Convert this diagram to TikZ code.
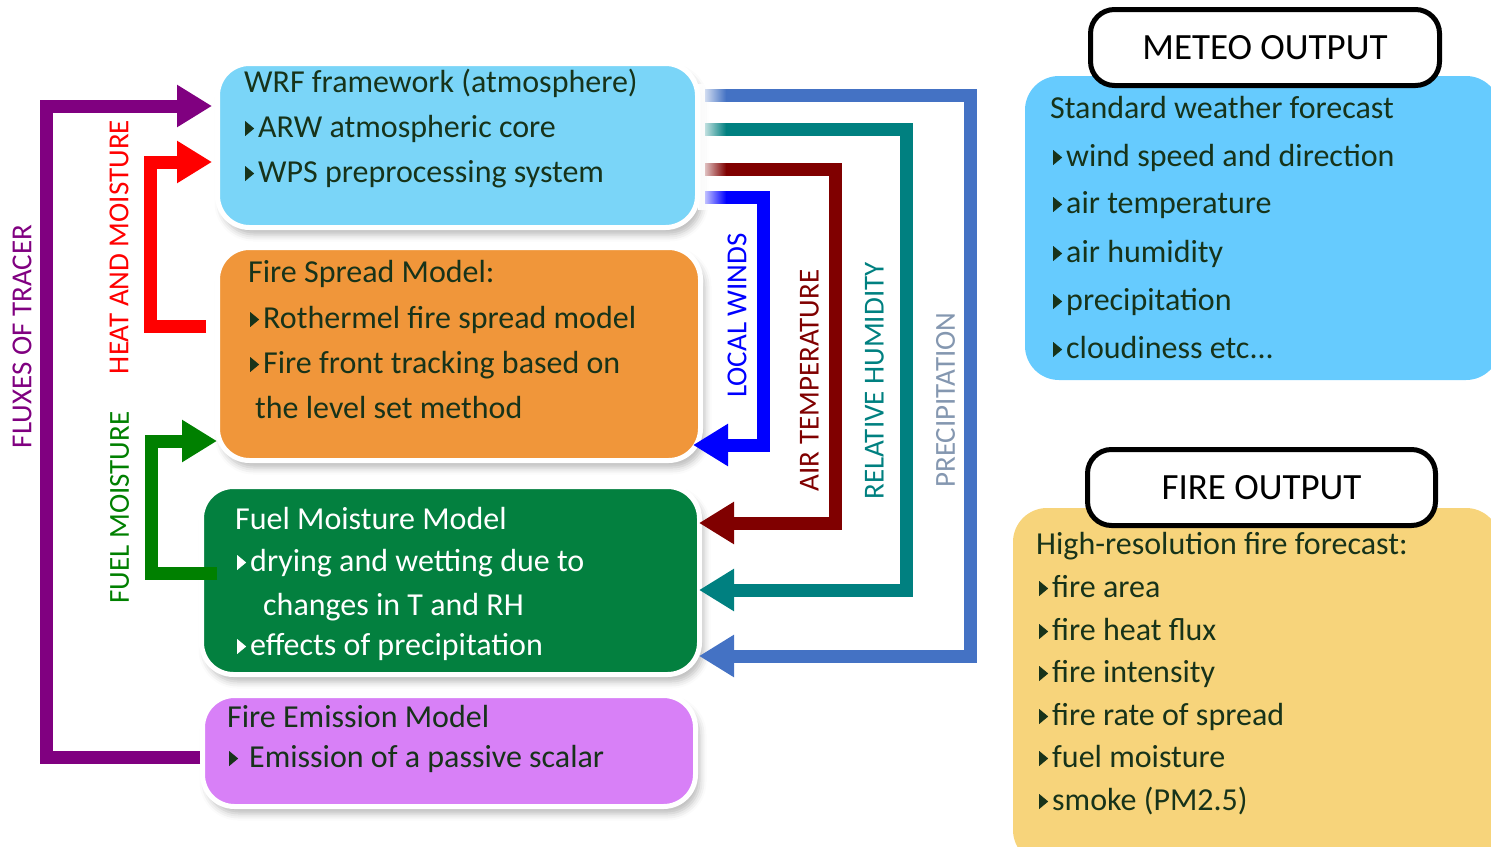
\documentclass[tikz,border=0pt]{standalone}
\usepackage{fontspec}
\setmainfont{Carlito}
\usetikzlibrary{arrows.meta,shadows.blur,fadings}

\definecolor{wrfc}{HTML}{7AD5F8}
\definecolor{spreadc}{HTML}{F0963A}
\definecolor{fuelc}{HTML}{03803F}
\definecolor{emic}{HTML}{D880F7}
\definecolor{meteoc}{HTML}{66CBFE}
\definecolor{firec}{HTML}{F7D47B}
\definecolor{txtc}{HTML}{17331A}
\definecolor{purp}{HTML}{800080}
\definecolor{heatc}{HTML}{FF0000}
\definecolor{moistc}{HTML}{008000}
\definecolor{windc}{HTML}{0000FF}
\definecolor{tempc}{HTML}{800000}
\definecolor{humc}{HTML}{008080}
\definecolor{precc}{HTML}{4472C4}
\definecolor{preclab}{HTML}{8497B0}

% small right-pointing bullet triangle, in the current text colour
\newcommand\tri{\tikz[baseline=0pt]\fill (0pt,1pt) -- (0pt,16pt) -- (9pt,8.5pt) -- cycle;}

\begin{document}
\begin{tikzpicture}[x=1pt,y=-1pt,
  lbox/.style={rounded corners=32pt, draw=white, line width=5pt,
    blur shadow={shadow xshift=4pt, shadow yshift=-7pt, shadow blur radius=7pt, shadow opacity=28},
    inner sep=0pt},
  rbox/.style={rounded corners=34pt, inner sep=0pt},
  tag/.style={rounded corners=24pt, draw=black, line width=5pt, fill=white, inner sep=0pt,
    font=\fontsize{37}{42}\selectfont},
  txt/.style={anchor=base west, inner sep=0pt, text=txtc, font=\fontsize{32}{36}\selectfont},
  vlab/.style={rotate=90, inner sep=0pt, font=\fontsize{29}{34}\selectfont},
  flow/.style={line width=13pt, line join=miter, line cap=butt,
    -{Triangle[length=35pt,width=40pt]}}]

\useasboundingbox (0,0) rectangle (1491,846);
\clip (0,0) rectangle (1491,846);

% ---- model boxes ----
\node[lbox, fill=wrfc, minimum width=480pt, minimum height=164pt] (wrf) at (457.5,145.5) {};
\node[lbox, fill=spreadc, minimum width=483pt, minimum height=213pt] (spread) at (459,354) {};
\node[lbox, fill=fuelc, minimum width=498pt, minimum height=188pt] (fuel) at (450.5,580.5) {};
\node[lbox, fill=emic, minimum width=493pt, minimum height=111pt] (emi) at (449,751) {};

% ---- arrow end points ----
\coordinate (purpIn) at (212,106);
\coordinate (heatIn) at (212,162);
\coordinate (heatOut) at (206,326);
\coordinate (moistIn) at (217,441);
\coordinate (moistOut) at (217,573);
\coordinate (windOut) at (705,197);
\coordinate (windIn) at (693,445);
\coordinate (tempOut) at (705,169);
\coordinate (tempIn) at (699,523);
\coordinate (humOut) at (705,129);
\coordinate (humIn) at (699,590);
\coordinate (precOut) at (705,95);
\coordinate (precIn) at (699,656);

% ---- feedback arrows on the left ----
\draw[flow, purp] ([yshift=-6pt]emi.west) -| (46,106) -- (purpIn);
\draw[flow, heatc] (heatOut) -| (150,162) -- (heatIn);
\draw[flow, moistc] (moistOut) -| (151,441) -- (moistIn);

% ---- atmospheric forcing arrows on the right ----
\draw[flow, windc] (windOut) -| (763,445) -- (windIn);
\draw[flow, tempc] (tempOut) -| (835,523) -- (tempIn);
\draw[flow, humc] (humOut) -| (906,590) -- (humIn);
\draw[flow, precc] (precOut) -| (970,656) -- (precIn);

% soft white glow where the arrows leave the WRF box
\fill[white, path fading=east] (698,84) rectangle (726,210);

% ---- arrow labels ----
\node[vlab, text=purp] (lflux) at (22,336.5) {FLUXES OF TRACER};
\node[vlab, text=heatc] (lheat) at (119,247) {HEAT AND MOISTURE};
\node[vlab, text=moistc] (lmoist) at (119.5,507.5) {FUEL MOISTURE};
\node[vlab, text=windc] (lwind) at (737,315.5) {LOCAL WINDS};
\node[vlab, text=tempc] (ltemp) at (809.5,380.5) {AIR TEMPERATURE};
\node[vlab, text=humc] (lhum) at (874.5,381) {RELATIVE HUMIDITY};
\node[vlab, text=preclab] (lprec) at (945.5,400) {PRECIPITATION};

% ---- box texts ----
\node[txt] (w1) at (244,92) {WRF framework (atmosphere)};
\node[txt] (w2) at (245,137) {\tri\hspace{4pt}ARW atmospheric core};
\node[txt] (w3) at (245,182) {\tri\hspace{4pt}WPS preprocessing system};

\node[txt] (s1) at (248,282) {Fire Spread Model:};
\node[txt] (s2) at (250,328) {\tri\hspace{4pt}Rothermel fire spread model};
\node[txt] (s3) at (250,373) {\tri\hspace{4pt}Fire front tracking based on};
\node[txt] (s4) at (255,418) {the level set method};

\node[txt, text=white] (f1) at (235,529) {Fuel Moisture Model};
\node[txt, text=white] (f2) at (237,571) {\tri\hspace{4pt}drying and wetting due to};
\node[txt, text=white] (f3) at (263,615) {changes in T and RH};
\node[txt, text=white] (f4) at (237,655) {\tri\hspace{4pt}effects of precipitation};

\node[txt] (e1) at (227,727) {Fire Emission Model};
\node[txt] (e2) at (229,767) {\tri\hspace{11pt}Emission of a passive scalar};

% ---- output panels ----
\node[rbox, fill=meteoc, minimum width=475pt, minimum height=304pt] (meteo) at (1262.5,228) {};
\node[rbox, fill=firec, minimum width=487pt, minimum height=356pt] (fire) at (1256.5,686) {};

\node[tag, minimum width=349pt, minimum height=76pt] (meteotag) at (1265,47.5) {METEO OUTPUT};
\node[tag, minimum width=348pt, minimum height=76pt] (firetag) at (1261.5,487.5) {FIRE OUTPUT};

\node[txt] (m0) at (1050,118) {Standard weather forecast};
\node[txt] (m1) at (1053,166) {\tri\hspace{4pt}wind speed and direction};
\node[txt] (m2) at (1053,213) {\tri\hspace{4pt}air temperature};
\node[txt] (m3) at (1053,262) {\tri\hspace{4pt}air humidity};
\node[txt] (m4) at (1053,310) {\tri\hspace{4pt}precipitation};
\node[txt] (m5) at (1053,358) {\tri\hspace{4pt}cloudiness etc...};

\node[txt] (o0) at (1036,554) {High-resolution fire forecast:};
\node[txt] (o1) at (1039,597) {\tri\hspace{4pt}fire area};
\node[txt] (o2) at (1039,640) {\tri\hspace{4pt}fire heat flux};
\node[txt] (o3) at (1039,682) {\tri\hspace{4pt}fire intensity};
\node[txt] (o4) at (1039,725) {\tri\hspace{4pt}fire rate of spread};
\node[txt] (o5) at (1039,767) {\tri\hspace{4pt}fuel moisture};
\node[txt] (o6) at (1039,810) {\tri\hspace{4pt}smoke (PM2.5)};
\end{tikzpicture}
\end{document}
